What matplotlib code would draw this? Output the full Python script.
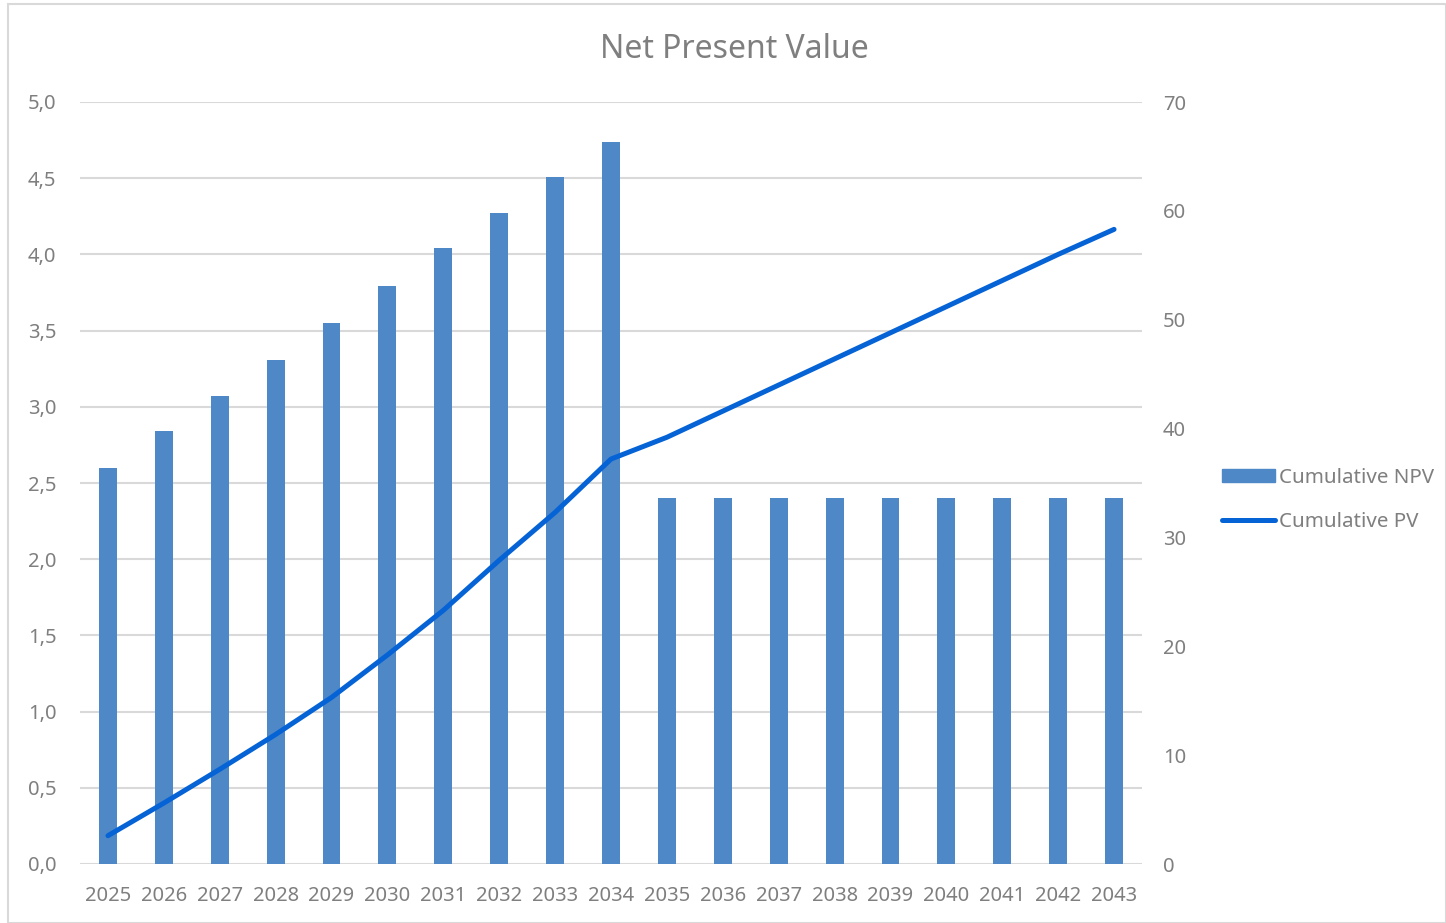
import matplotlib.pyplot as plt
from matplotlib.ticker import FuncFormatter, MultipleLocator
from matplotlib.patches import Rectangle
from matplotlib.lines import Line2D

# data
years = [str(y) for y in range(2025, 2044)]
cum_npv = [2.60, 2.84, 3.07, 3.31, 3.55, 3.79, 4.04, 4.27, 4.51, 4.74,
           2.40, 2.40, 2.40, 2.40, 2.40, 2.40, 2.40, 2.40, 2.40]
cum_pv = [2.6, 5.6, 8.7, 11.9, 15.3, 19.2, 23.3, 27.9, 32.3, 37.2,
          39.2, 41.6, 44.0, 46.4, 48.8, 51.2, 53.6, 56.0, 58.3]

bar_color = "#4E88C7"
line_color = "#0563D6"
text_color = "#7F7F7F"
grid_color = "#D9D9D9"

plt.rcParams['font.family'] = ['Noto Sans', 'DejaVu Sans']

fig = plt.figure(figsize=(14.46, 9.23), dpi=100)
ax1 = fig.add_axes([80 / 1446, 59 / 923, (1142 - 80) / 1446, (864 - 102) / 923])

x = list(range(len(years)))
ax1.bar(x, cum_npv, width=0.32, color=bar_color, zorder=2)
ax1.set_xlim(-0.5, len(years) - 0.5)
ax1.set_ylim(0, 5)
ax1.yaxis.set_major_locator(MultipleLocator(0.5))
ax1.yaxis.set_major_formatter(FuncFormatter(lambda v, p: f"{v:.1f}".replace('.', ',')))
ax1.set_xticks(x)
ax1.set_xticklabels(years)
ax1.grid(axis='y', color=grid_color, lw=1.5, zorder=0)
ax1.set_axisbelow(True)
for s in ax1.spines.values():
    s.set_visible(False)
ax1.tick_params(axis='y', length=0, pad=17, labelsize=14.5, labelcolor=text_color)
ax1.tick_params(axis='x', length=0, pad=16, labelsize=14.5, labelcolor=text_color)

ax2 = ax1.twinx()
ax2.plot(x, cum_pv, color=line_color, lw=3.6, solid_capstyle='round',
         solid_joinstyle='round', zorder=3)
ax2.set_ylim(0, 70)
ax2.yaxis.set_major_locator(MultipleLocator(10))
for s in ax2.spines.values():
    s.set_visible(False)
ax2.tick_params(axis='y', length=0, pad=15, labelsize=14.5, labelcolor=text_color)

fig.text(734 / 1446, 1 - 49 / 923, "Net Present Value", ha='center', va='center',
         fontsize=23, color=text_color)

handles = [Rectangle((0, 0), 1, 1, color=bar_color),
           Line2D([0], [0], color=line_color, lw=3.6, solid_capstyle='round')]
leg = fig.legend(handles, ["Cumulative NPV", "Cumulative PV"],
                 loc='center left', bbox_to_anchor=(1203 / 1446, 1 - 500 / 923),
                 frameon=False, fontsize=14.8, labelcolor=text_color,
                 handlelength=2.6, handletextpad=0.2, labelspacing=1.15,
                 handleheight=0.6)

# light chart border
fig.patches.append(Rectangle((8 / 1446, 0), 1 - 8 / 1446, 1 - 4 / 923,
                             transform=fig.transFigure, fill=False,
                             edgecolor=grid_color, lw=1.5))

plt.savefig("out.png", dpi=100)
